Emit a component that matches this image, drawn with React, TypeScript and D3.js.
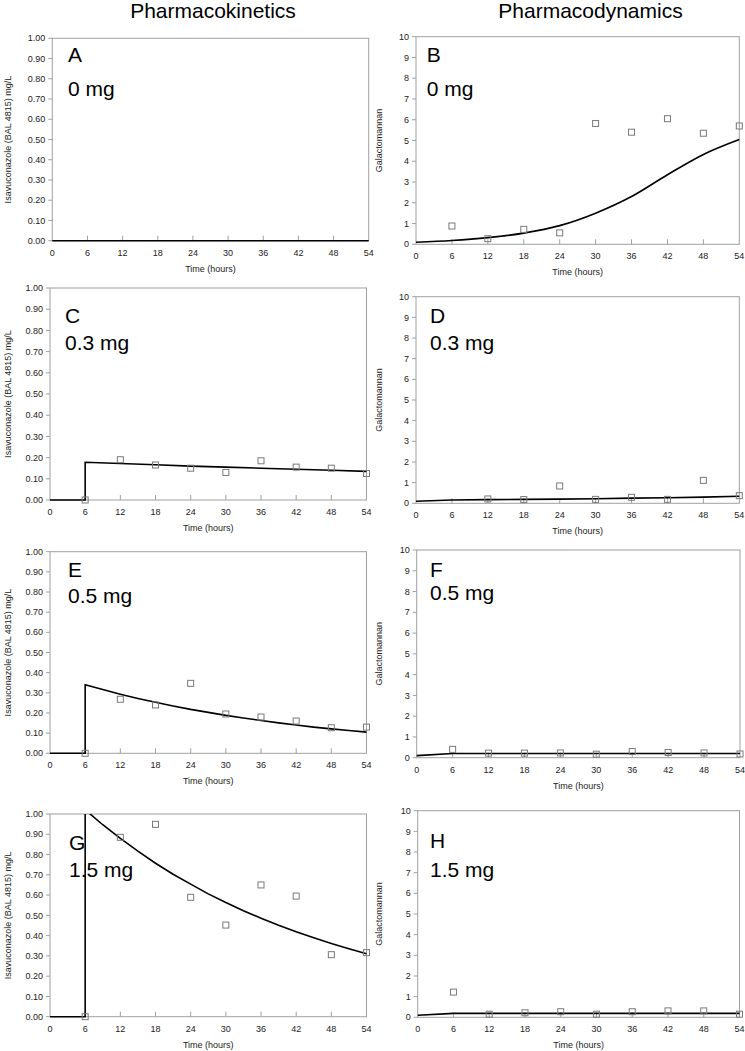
import React from "react";
import * as d3 from "d3";

// ---------- data ----------
const timeTicks = [0, 6, 12, 18, 24, 30, 36, 42, 48, 54];
const pkTicks = [0, 0.1, 0.2, 0.3, 0.4, 0.5, 0.6, 0.7, 0.8, 0.9, 1.0];
const pdTicks = [0, 1, 2, 3, 4, 5, 6, 7, 8, 9, 10];

const obsTimes = [6, 12, 18, 24, 30, 36, 42, 48, 54];

// PK observed (mg/L)
const pkObsC = [0.0, 0.19, 0.165, 0.15, 0.13, 0.185, 0.155, 0.15, 0.125];
const pkObsE = [0.0, 0.268, 0.24, 0.347, 0.195, 0.18, 0.16, 0.127, 0.13];
const pkObsG = [0.0, 0.885, 0.949, 0.589, 0.452, 0.65, 0.595, 0.306, 0.316];

// PK model curves [time, conc]
const pkFitA: [number, number][] = [[0, 0], [54, 0]];
const pkFitC: [number, number][] = [
  [0, 0], [6, 0], [6, 0.178], [12, 0.172], [18, 0.166], [24, 0.16], [30, 0.155],
  [36, 0.15], [42, 0.145], [48, 0.14], [54, 0.135],
];
const pkFitE: [number, number][] = [
  [0, 0], [6, 0], [6, 0.34], [9, 0.316], [12, 0.293], [15, 0.272], [18, 0.253],
  [21, 0.235], [24, 0.218], [27, 0.203], [30, 0.188], [33, 0.175], [36, 0.163],
  [39, 0.151], [42, 0.14], [45, 0.13], [48, 0.121], [51, 0.113], [54, 0.105],
];
const pkFitG: [number, number][] = [
  [0, 0], [6, 0], [6, 1.021], [9, 0.947], [12, 0.88], [15, 0.817], [18, 0.757],
  [21, 0.703], [24, 0.654], [27, 0.606], [30, 0.563], [33, 0.523], [36, 0.486],
  [39, 0.451], [42, 0.419], [45, 0.389], [48, 0.361], [51, 0.335], [54, 0.311],
];

// PD observed (galactomannan)
const pdObsB = [0.88, 0.27, 0.72, 0.55, 5.82, 5.4, 6.05, 5.35, 5.7];
const pdObsD = [null, 0.21, 0.18, 0.84, 0.19, 0.29, 0.19, 1.11, 0.37];
const pdObsF = [0.4, 0.22, 0.22, 0.23, 0.17, 0.3, 0.25, 0.23, 0.18];
const pdObsH = [1.22, 0.15, 0.22, 0.27, 0.15, 0.27, 0.31, 0.31, 0.15];

// PD model curves
const pdFitB: [number, number][] = [
  [0, 0.1], [6, 0.18], [12, 0.32], [18, 0.54], [24, 0.9], [30, 1.5],
  [36, 2.3], [42, 3.35], [48, 4.33], [54, 5.05],
];
const pdFitD: [number, number][] = [
  [0, 0.1], [6, 0.16], [12, 0.18], [18, 0.19], [24, 0.2], [30, 0.22],
  [36, 0.25], [42, 0.27], [48, 0.3], [54, 0.34],
];
const pdFitF: [number, number][] = [[0, 0.1], [6, 0.2], [54, 0.2]];
const pdFitH: [number, number][] = [[0, 0.1], [6, 0.19], [54, 0.19]];

const pkLabel = "Isavuconazole (BAL 4815) mg/L";
const pdLabel = "Galactomannan";
const xLabel = "Time (hours)";

// ---------- layout ----------
type Panel = {
  id: string;
  dose: string;
  kind: "pk" | "pd";
  box: [number, number, number, number]; // left, top, right, bottom
  letterPos: [number, number, number]; // x, letter baseline, dose baseline
  obs: (number | null)[] | null;
  fit: [number, number][];
};

const panels: Panel[] = [
  { id: "A", dose: "0 mg", kind: "pk", box: [52.3, 38.3, 368.7, 240.7], letterPos: [68, 62, 95.7], obs: null, fit: pkFitA },
  { id: "B", dose: "0 mg", kind: "pd", box: [416, 36.7, 739.3, 244.3], letterPos: [426.7, 61.7, 95.7], obs: pdObsB, fit: pdFitB },
  { id: "C", dose: "0.3 mg", kind: "pk", box: [50, 288, 366.5, 500], letterPos: [65, 322.5, 350], obs: pkObsC, fit: pkFitC },
  { id: "D", dose: "0.3 mg", kind: "pd", box: [416, 296.7, 739.3, 503.3], letterPos: [430, 323.3, 350], obs: pdObsD, fit: pdFitD },
  { id: "E", dose: "0.5 mg", kind: "pk", box: [50, 551.7, 366.5, 753.3], letterPos: [68, 577.3, 603.3], obs: pkObsE, fit: pkFitE },
  { id: "F", dose: "0.5 mg", kind: "pd", box: [416.7, 550, 740, 757.7], letterPos: [430, 576.7, 600], obs: pdObsF, fit: pdFitF },
  { id: "G", dose: "1.5 mg", kind: "pk", box: [50, 814, 366.5, 1016.7], letterPos: [69, 850, 876.7], obs: pkObsG, fit: pkFitG },
  { id: "H", dose: "1.5 mg", kind: "pd", box: [417.7, 810.7, 739.5, 1017.3], letterPos: [430, 848.3, 876.7], obs: pdObsH, fit: pdFitH },
];

const FONT = "Arial, 'Liberation Sans', Helvetica, sans-serif";
const FRAME = "#a0a0a0";
const TEXT = "#222";

function PanelView({ p }: { p: Panel }) {
  const [l, t, r, b] = p.box;
  const x = d3.scaleLinear().domain([0, 54]).range([l, r]);
  const y = d3.scaleLinear().domain(p.kind === "pk" ? [0, 1] : [0, 10]).range([b, t]);
  const yTicks = p.kind === "pk" ? pkTicks : pdTicks;
  const fmt = p.kind === "pk" ? d3.format(".2f") : d3.format("d");
  const line = d3
    .line<[number, number]>()
    .x((d) => x(d[0]))
    .y((d) => y(d[1]))
    .curve(p.id === "B" ? d3.curveMonotoneX : d3.curveLinear);
  const clipId = `clip-${p.id}`;
  const yLabelX = p.kind === "pk" ? 7.5 : 378.5;
  const cy = (t + b) / 2;
  return (
    <g>
      <defs>
        <clipPath id={clipId}>
          <rect x={l - 2} y={t} width={r - l + 4} height={b - t + 2} />
        </clipPath>
      </defs>
      <rect x={l} y={t} width={r - l} height={b - t} fill="none" stroke={FRAME} strokeWidth={1} />
      {yTicks.map((v) => (
        <g key={`y${v}`}>
          <line x1={l - 4} x2={l} y1={y(v)} y2={y(v)} stroke={FRAME} />
          <text x={l - 7} y={y(v)} dy="0.35em" textAnchor="end" fontSize={9} fill={TEXT} fontFamily={FONT}>
            {fmt(v)}
          </text>
        </g>
      ))}
      {timeTicks.map((v) => (
        <g key={`x${v}`}>
          {v > 0 && v < 54 && <line x1={x(v)} x2={x(v)} y1={b} y2={b - 5} stroke={FRAME} />}
          <text x={x(v)} y={b + 12} dy="0.35em" textAnchor="middle" fontSize={9} fill={TEXT} fontFamily={FONT}>
            {v}
          </text>
        </g>
      ))}
      <text x={(l + r) / 2} y={b + 28} dy="0.35em" textAnchor="middle" fontSize={9} fill={TEXT} fontFamily={FONT}>
        {xLabel}
      </text>
      <text
        transform={`translate(${yLabelX},${cy}) rotate(-90)`}
        dy="0.35em"
        textAnchor="middle"
        fontSize={9}
        fill={TEXT}
        fontFamily={FONT}
      >
        {p.kind === "pk" ? pkLabel : pdLabel}
      </text>
      <g clipPath={`url(#${clipId})`}>
        <path d={line(p.fit) || ""} fill="none" stroke="#000" strokeWidth={1.6} />
      </g>
      {p.obs &&
        p.obs.map((v, i) =>
          v === null ? null : (
            <rect
              key={`o${i}`}
              x={x(obsTimes[i]) - 3}
              y={y(v) - 3}
              width={6}
              height={6}
              fill="none"
              stroke="#7a7a7a"
              strokeWidth={1}
            />
          )
        )}
      <text x={p.letterPos[0]} y={p.letterPos[1]} fontSize={21} fill="#000" fontFamily={FONT}>
        {p.id}
      </text>
      <text x={p.letterPos[0]} y={p.letterPos[2]} fontSize={21} fill="#000" fontFamily={FONT}>
        {p.dose}
      </text>
    </g>
  );
}

export default function App() {
  return (
    <svg
      width={745}
      height={1051}
      style={{ position: "absolute", left: 0, top: 0, background: "#fff" }}
    >
      <rect x={0} y={0} width={745} height={1051} fill="#fff" />
      <text x={213} y={18} textAnchor="middle" fontSize={21} fill="#000" fontFamily={FONT}>
        Pharmacokinetics
      </text>
      <text x={590.5} y={18} textAnchor="middle" fontSize={21} fill="#000" fontFamily={FONT}>
        Pharmacodynamics
      </text>
      {panels.map((p) => (
        <PanelView key={p.id} p={p} />
      ))}
    </svg>
  );
}
